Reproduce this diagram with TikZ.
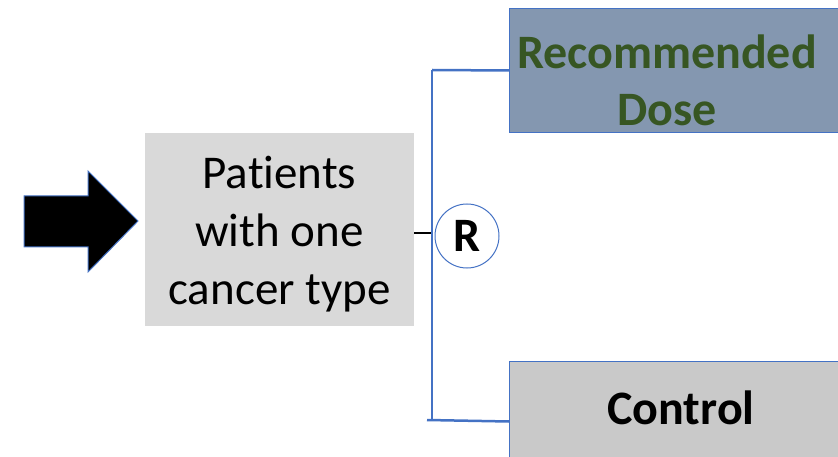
\documentclass[tikz,border=0pt]{standalone}
\usepackage{fontspec}
\setmainfont{Carlito}[Ligatures=NoCommon]
\usetikzlibrary{positioning}

\definecolor{lineblue}{HTML}{4472C4}
\definecolor{patgray}{HTML}{D9D9D9}
\definecolor{dosefill}{HTML}{8497B0}
\definecolor{dosegreen}{HTML}{375623}
\definecolor{ctrlgray}{HTML}{C9C9C9}

\tikzset{
  armbox/.style={draw=lineblue, line width=1pt, minimum width=400, minimum height=120, anchor=north west},
  bigtext/.style={font=\fontsize{47}{58}\selectfont, align=center},
  branch/.style={draw=lineblue, line width=2.5pt}
}

\begin{document}
\begin{tikzpicture}[x=1pt, y=-1pt]
  \clip (0,0) rectangle (838,457);

  % entry arrow
  \filldraw[draw=lineblue, fill=black, line width=1pt] (24,196) -- (88,196) -- (88,171) -- (138,221)
    -- (88,272) -- (88,247) -- (24,247) -- cycle;

  % patients
  \node[fill=patgray, minimum width=269, minimum height=193] (pat) at (279.5,229.5) {};
  \node[bigtext] (pattxt) at (279.5,234) {Patients\\with one\\cancer type};

  % randomisation
  \coordinate (split) at (432,233);
  \coordinate (top) at (432,70);
  \coordinate (bot) at (432,420);
  \node[circle, draw=lineblue, line width=1pt, minimum size=64, inner sep=0pt,
    font=\fontsize{48}{50}\selectfont\bfseries] (R) at (467,236) {R};
  \draw[line width=2.5pt] (pat.east |- split) -- (split);

  % arms
  \node[armbox, fill=dosefill, minimum height=124] (dose) at (509,8) {};
  \node[bigtext, font=\fontsize{48}{57}\selectfont\bfseries, text=dosegreen] (dosetxt) at (667,80)
    {Recommended\\Dose};
  \node[armbox, fill=ctrlgray] (ctrl) at (509,361) {};
  \node[font=\fontsize{48}{57}\selectfont\bfseries] (ctrltxt) at (681,408) {Control};

  \draw[branch] (top) -- (bot);
  \draw[branch] (top) -- (dose.west);
  \draw[branch] ([xshift=-5]bot) -- (ctrl.west);
\end{tikzpicture}
\end{document}
